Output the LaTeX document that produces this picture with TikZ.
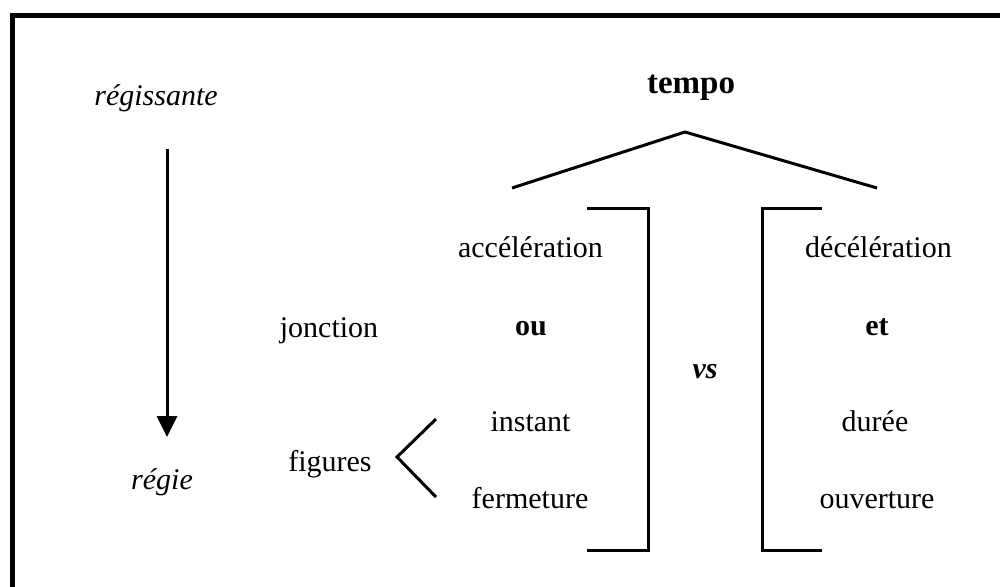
\documentclass[tikz,border=0pt]{standalone}
\usepackage{fontspec}
\setmainfont{Liberation Serif}
\usetikzlibrary{arrows.meta}
\begin{document}
\begin{tikzpicture}[x=1pt,y=-1pt,
  lbl/.style={anchor=base,inner sep=0pt,font=\fontsize{30}{36}\selectfont},
  rule/.style={line width=3pt},
  frame/.style={line width=5pt}]
\useasboundingbox (0,0) rectangle (1000,586);
% outer frame (top and left edges)
\draw[frame] (12.5,590) -- (12.5,15.5) -- (1005,15.5);

% left column: direction of regency
\node[lbl] (regissante) at (156,105) {\itshape régissante};
\node[lbl] (regie) at (162,489) {\itshape régie};
\coordinate (arrtop) at (167,149);
\coordinate (arrbot) at (167,437);
\draw[rule,-{Triangle[width=20pt,length=21pt]}] (arrtop) -- (arrbot);

% labels
\node[lbl,font=\fontsize{33}{38}\selectfont] (tempo) at (691,93) {\bfseries tempo};
\node[lbl] (jonction) at (329,337) {jonction};
\node[lbl] (figures) at (330,471) {figures};
\node[lbl] (accel) at (530.5,257) {accélération};
\node[lbl] (ou) at (531,335) {\bfseries ou};
\node[lbl] (instant) at (530.5,431) {instant};
\node[lbl] (fermeture) at (530,508) {fermeture};
\node[lbl] (vs) at (705,378) {\bfseries\itshape vs};
\node[lbl] (decel) at (878.5,257) {décélération};
\node[lbl] (et) at (877,335) {\bfseries et};
\node[lbl] (duree) at (875,431) {durée};
\node[lbl] (ouverture) at (877,508) {ouverture};

% branching under tempo
\coordinate (apex) at (685,132);
\coordinate (capL) at (512,188);
\coordinate (capR) at (877,188);
\draw[rule,line join=miter] (capL) -- (apex) -- (capR);

% chevron before the two figures
\coordinate (chev) at (397,457);
\coordinate (chevT) at (436,419);
\coordinate (chevB) at (436,497);
\draw[rule,line join=miter] (chevT) -- (chev) -- (chevB);

% brackets around vs
\draw[rule] (587,208) -- (648,208) -- (648,550) -- (587,550);
\draw[rule] (822,208) -- (762,208) -- (762,550) -- (822,550);
\end{tikzpicture}
\end{document}
